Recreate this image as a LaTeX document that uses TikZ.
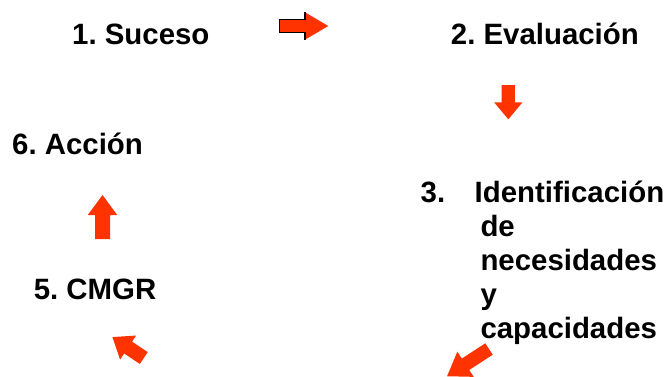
\documentclass[tikz,border=0pt]{standalone}
\usepackage{fontspec}
\setmainfont{Liberation Sans}
\frenchspacing
\definecolor{ArrowClr}{RGB}{255,51,0}
\tikzset{lbl/.style={anchor=base west,inner sep=0pt,font=\fontsize{29.4}{34}\selectfont\bfseries}}
% #1 start, #2 angle, #3 length, #4 half shaft, #5 half head, #6 head length
\newcommand{\blockArrow}[6]{%
  \fill[ArrowClr,shift={(#1)},rotate=#2] (0,-#4) -- (#3-#6,-#4) -- (#3-#6,-#5) -- (#3,0)
    -- (#3-#6,#5) -- (#3-#6,#4) -- (0,#4) -- cycle;}

\begin{document}
\begin{tikzpicture}[x=1pt,y=-1pt]
\useasboundingbox (0,0) rectangle (666,376);
\clip (0,0) rectangle (666,376);

\node[lbl] (suceso) at (72,44) {1. Suceso};
\node[lbl] (evaluacion) at (450.7,44) {2. Evaluación};
\node[lbl] (accion) at (12,154) {6. Acción};
\node[lbl] (cmgr) at (33.6,299) {5. CMGR};
\node[lbl] (num3) at (420.5,202) {3.};
\node[lbl] (ident) at (474.5,202) {Identificación};
\foreach \w [count=\i] in {de,necesidades,y,capacidades}
  \node[lbl] (ident\i) at (480.3,202+34*\i) {\w};

\blockArrow{279.3,26}{0}{49}{6.7}{13.7}{23.3}
\draw[line width=1.2pt,shift={(279.3,26)}] (25.7,-13.7) -- (25.7,-6.7) -- (0,-6.7) -- (0,6.7)
  -- (25.7,6.7) -- (25.7,13.7);
\blockArrow{508.3,85}{-90}{34.3}{6.65}{14.2}{17}
\blockArrow{102.5,239}{90}{44}{7.5}{14.7}{20}
\blockArrow{143.8,358}{146.3}{37.7}{7.1}{14.4}{18.8}
\blockArrow{489,349}{213}{50}{6.8}{15}{22}

\end{tikzpicture}
\end{document}
